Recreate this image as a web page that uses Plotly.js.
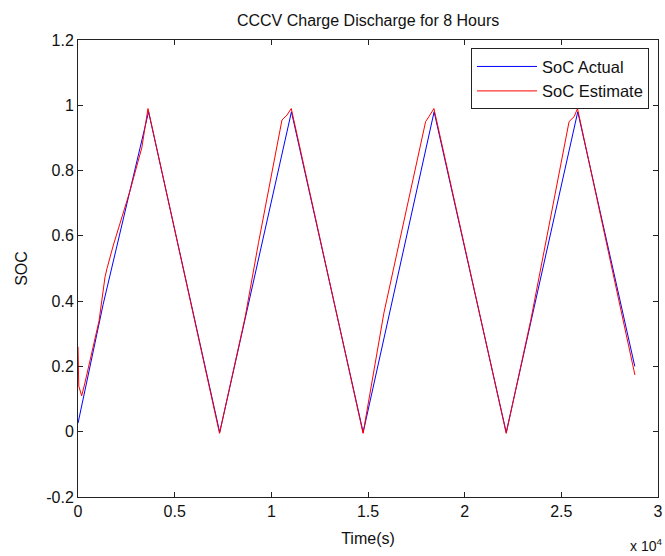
<!DOCTYPE html>
<html>
<head>
<meta charset="utf-8">
<script src="https://cdn.plot.ly/plotly-3.0.1.min.js"></script>
<style>html,body{margin:0;padding:0;background:#fff;}#chart{width:665px;height:556px;}</style>
</head>
<body>
<div id="chart"></div>
<script>
// Time in seconds, SoC fraction
var timeActual = [0, 300, 1300, 3650, 7330, 11040, 14750, 18420, 22150, 25850, 28800];
var socActual  = [0.026, 0.11, 0.39, 0.98, -0.002, 0.98, -0.002, 0.98, -0.002, 0.98, 0.20];

var timeEstimate = [0, 40, 190, 360, 1090, 1400, 1500, 1830, 2700, 3300, 3620, 7320,
                    8650, 9340, 10550, 10810, 11030, 14745,
                    15820, 17980, 18150, 18410, 22150,
                    23420, 25400, 25660, 25836, 28806];
var socEstimate  = [0.26, 0.14, 0.11, 0.15, 0.34, 0.475, 0.50, 0.572, 0.74, 0.87, 0.99, -0.005,
                    0.352, 0.58, 0.955, 0.97, 0.99, -0.005,
                    0.363, 0.95, 0.965, 0.99, -0.005,
                    0.342, 0.95, 0.965, 0.99, 0.174];

var xTickVals = [0, 5000, 10000, 15000, 20000, 25000, 30000];
var xTickText = ["0", "0.5", "1", "1.5", "2", "2.5", "3"];
var yTickVals = [-0.2, 0, 0.2, 0.4, 0.6, 0.8, 1, 1.2];
var yTickText = ["-0.2", "0", "0.2", "0.4", "0.6", "0.8", "1", "1.2"];

var font = "Liberation Sans, Arial, Helvetica, sans-serif";

var traces = [
  {x: timeActual, y: socActual, name: "SoC Actual", type: "scatter", mode: "lines",
   line: {color: "#0000ff", width: 1}},
  {x: timeEstimate, y: socEstimate, name: "SoC Estimate", type: "scatter", mode: "lines",
   line: {color: "#ff0000", width: 1}}
];

var axisCommon = {
  showgrid: false, zeroline: false, showline: true, linecolor: "#222", linewidth: 1,
  mirror: "ticks", ticks: "inside", ticklen: 5, tickcolor: "#222", tickwidth: 1,
  tickfont: {family: font, size: 16, color: "#111"}
};

var layout = {
  width: 665, height: 556,
  paper_bgcolor: "#fff", plot_bgcolor: "#fff",
  margin: {l: 78, r: 7, t: 40, b: 59},
  title: {text: "CCCV Charge Discharge for 8 Hours", font: {family: font, size: 16, color: "#111"},
          x: 0.5535, xanchor: "center", y: 0.963, yanchor: "middle"},
  xaxis: Object.assign({}, axisCommon, {
    range: [0, 30000], tickvals: xTickVals, ticktext: xTickText,
    title: {text: "Time(s)", font: {family: font, size: 16, color: "#111"}, standoff: 13}
  }),
  yaxis: Object.assign({}, axisCommon, {
    range: [-0.2, 1.2], tickvals: yTickVals, ticktext: yTickText,
    title: {text: "SOC", font: {family: font, size: 16, color: "#111"}, standoff: 14}
  }),
  showlegend: true,
  legend: {x: 0.9845, y: 0.982, xanchor: "right", yanchor: "top",
           bgcolor: "#fff", bordercolor: "#222", borderwidth: 1,
           font: {family: font, size: 16.5, color: "#111"}, itemwidth: 60, tracegroupgap: 0},
  annotations: [
    {xref: "paper", yref: "paper", x: 1.01, y: -0.105, xanchor: "right", yanchor: "middle",
     text: "x 10<sup>4</sup>", showarrow: false, font: {family: font, size: 14, color: "#111"}}
  ]
};

Plotly.newPlot("chart", traces, layout, {staticPlot: true, displayModeBar: false});
</script>
</body>
</html>
